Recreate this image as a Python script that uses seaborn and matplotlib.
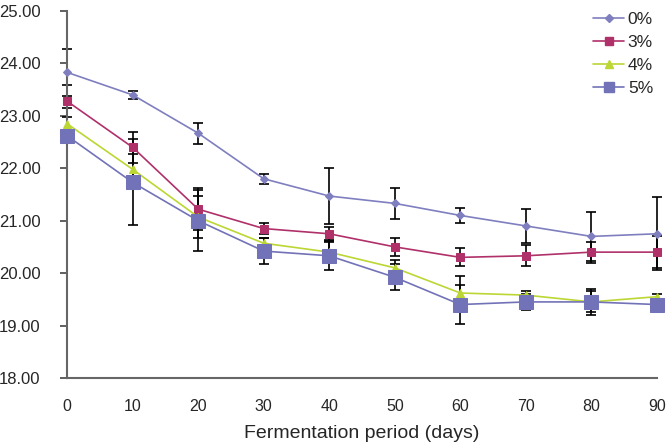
import numpy as np
import pandas as pd
import matplotlib
matplotlib.use("Agg")
import matplotlib.pyplot as plt
from matplotlib.lines import Line2D
import seaborn as sns

days = [0, 10, 20, 30, 40, 50, 60, 70, 80, 90]
groups = ["0%", "3%", "4%", "5%"]

val_0 = [23.83, 23.40, 22.67, 21.80, 21.47, 21.33, 21.10, 20.90, 20.70, 20.75]
val_3 = [23.28, 22.40, 21.22, 20.85, 20.75, 20.50, 20.30, 20.33, 20.40, 20.40]
val_4 = [22.85, 21.98, 21.07, 20.57, 20.40, 20.10, 19.62, 19.58, 19.45, 19.55]
val_5 = [22.62, 21.73, 21.00, 20.42, 20.33, 19.92, 19.40, 19.45, 19.45, 19.40]

err_0 = [0.45, 0.08, 0.20, 0.10, 0.53, 0.30, 0.15, 0.33, 0.47, 0.70]
err_3 = [0.30, 0.30, 0.40, 0.10, 0.12, 0.17, 0.17, 0.20, 0.20, 0.30]
err_4 = [0.30, 0.30, 0.40, 0.10, 0.20, 0.15, 0.33, 0.08, 0.25, 0.05]
err_5 = [0.08, 0.82, 0.58, 0.25, 0.28, 0.25, 0.38, 0.15, 0.20, 0.08]

sns.set_style("white")
plt.rcParams["font.family"] = ["Liberation Sans", "DejaVu Sans"]

df = pd.DataFrame({
    "day": days * 4,
    "value": val_0 + val_3 + val_4 + val_5,
    "err": err_0 + err_3 + err_4 + err_5,
    "group": [g for g in groups for _ in days],
})

colors = ["#7f7fc0", "#b0306a", "#bcd633", "#7272b8"]
markers = ["D", "s", "^", "s"]
msizes = [4, 6, 6, 10]
leg_sizes = [4, 6, 6, 7]

fig, ax = plt.subplots(figsize=(6.71, 4.42), dpi=100)
for g, c, m, ms in zip(groups, colors, markers, msizes):
    sub = df[df["group"] == g]
    eb = ax.errorbar(sub["day"], sub["value"], yerr=sub["err"], fmt="none",
                     ecolor="black", elinewidth=1.2, capsize=3.5, capthick=1.2, zorder=2)
    for art in eb.lines[1] + eb.lines[2]:
        art.set_clip_on(False)
    sns.lineplot(data=sub, x="day", y="value", color=c, marker=m,
                 markersize=ms, markeredgecolor=c, linewidth=1.2,
                 ax=ax, zorder=3, clip_on=False)

ax.set_xlim(0, 90)
ax.set_ylim(18, 25)
ax.set_xticks(days)
ax.set_yticks(np.arange(18, 25.01, 1))
ax.set_yticklabels([f"{v:.2f}" for v in np.arange(18, 25.01, 1)])
ax.set_xlabel("Fermentation period (days)", fontsize=14, labelpad=8)
ax.set_ylabel("")
ax.tick_params(axis="x", length=0, pad=15, labelsize=11.5)
ax.tick_params(axis="y", left=True, length=5, width=1.2, color="#444444",
               pad=14, labelsize=12)
sns.despine(ax=ax)
for s in ["left", "bottom"]:
    ax.spines[s].set_color("#666666")
    ax.spines[s].set_linewidth(1.5)

handles = [Line2D([], [], color=c, marker=m, markersize=s, markeredgecolor=c, linewidth=1.2)
           for c, m, s in zip(colors, markers, leg_sizes)]
ax.legend(handles, groups, loc="upper right", bbox_to_anchor=(1.02, 1.04), frameon=False,
          fontsize=12.5, handlelength=1.8, labelspacing=0.45, handletextpad=0.2)

fig.subplots_adjust(left=0.10, right=0.979, top=0.975, bottom=0.145)
fig.savefig("out.png", dpi=100)
